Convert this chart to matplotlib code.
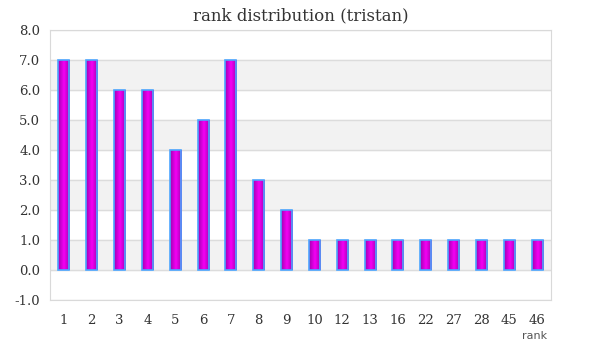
import numpy as np
import matplotlib
matplotlib.use("Agg")
import matplotlib.pyplot as plt
from matplotlib.colors import LinearSegmentedColormap

# ---------------------- data ----------------------
ranks = ["1", "2", "3", "4", "5", "6", "7", "8", "9", "10", "12", "13",
         "16", "22", "27", "28", "45", "46"]
counts = [7, 7, 6, 6, 4, 5, 7, 3, 2, 1, 1, 1, 1, 1, 1, 1, 1, 1]
yticks = [-1, 0, 1, 2, 3, 4, 5, 6, 7, 8]

plt.rcParams["font.family"] = ["DejaVu Serif"]

fig = plt.figure(figsize=(6, 3.6), dpi=100)
ax = fig.add_axes([50 / 600, 60 / 360, 501 / 600, 270 / 360])

n = len(ranks)
x = np.arange(n)

# alternating bands
for lo in range(0, 8, 2):
    ax.axhspan(lo, lo + 1, color="#f2f2f2", zorder=0)
for t in yticks:
    ax.axhline(t, color="#dcdcdc", lw=1, zorder=1)

# bars with horizontal gradient (dark edges, bright centre)
w = 0.4
grad = np.abs(np.linspace(-1, 1, 64))[None, :]
cmap = LinearSegmentedColormap.from_list("mag", ["#f400f4", "#a000b0"])
for xi, c in zip(x, counts):
    ax.imshow(grad, extent=(xi - w / 2, xi + w / 2, 0, c), aspect="auto",
              cmap=cmap, zorder=2, interpolation="bilinear")
ax.bar(x, counts, width=w, facecolor="none", edgecolor="#4da6ff", lw=1.2, zorder=3)
ax.set_xlim(-0.5, n - 0.5)
ax.set_ylim(-1, 8)

ax.set_xticks(x)
ax.set_xticklabels(ranks)
ax.set_yticks(yticks)
ax.set_yticklabels([f"{t:.1f}" for t in yticks])
ax.tick_params(length=0, labelsize=9.5, colors="#333333")
ax.tick_params(axis="x", pad=10)
ax.tick_params(axis="y", pad=7)
for s in ax.spines.values():
    s.set_color("#d9d9d9")

ax.set_title("rank distribution (tristan)", fontsize=12, color="#333333", pad=7)
fig.text(547 / 600, 1 - 336 / 360, "rank", fontsize=8, family="DejaVu Sans",
         color="#555555", ha="right", va="center")

plt.savefig("out.png", dpi=100)
